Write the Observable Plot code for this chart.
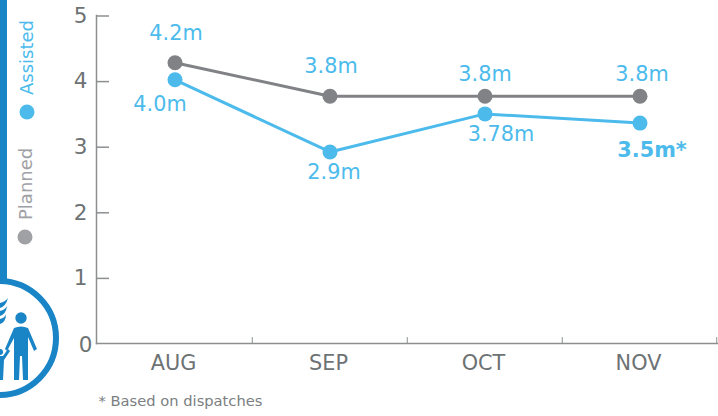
<!DOCTYPE html>
<html><head><meta charset="utf-8">
<script src="https://cdn.jsdelivr.net/npm/d3@7"></script>
<script src="https://cdn.jsdelivr.net/npm/@observablehq/plot@0.6"></script>
<style>
html,body{margin:0;padding:0;background:#fff;overflow:hidden}
#wrap{position:relative;width:718px;height:416px}
#wrap>svg{position:absolute;left:0;top:0}
#deco{pointer-events:none}
</style></head><body>
<div id="wrap"></div>
<script>
const months=["AUG","SEP","OCT","NOV"];
const planned=[4.28,3.77,3.77,3.77];
const assisted=[4.02,2.92,3.5,3.36];
const plannedLabels=["4.2m","3.8m","3.8m","3.8m"];
const assistedLabels=["4.0m","2.9m","3.78m","3.5m*"];
const plannedOffsets=[[1,-29],[1,-30],[0,-22],[2,-22]];
const assistedOffsets=[[-15,25],[4,20],[16,20],[12,27]];
const yTicks=[1,2,3,4,5];
const footnote="* Based on dispatches";
const blue="#4cbbec", grey="#808285", axisCol="#8c8e90", textCol="#6d7274", deep="#1a85c6";
const font="'DejaVu Sans',Verdana,sans-serif";
const fs=20.8;

const labelMarks=(vals,labels,offs)=>labels.map((t,i)=>Plot.text([t],{
  x:()=>months[i],y:()=>vals[i],text:d=>d,dx:offs[i][0],dy:offs[i][1],
  fill:blue,fontSize:fs}));

const chart=Plot.plot({
  width:718,height:416,marginLeft:96,marginRight:0,marginTop:15,marginBottom:73,
  style:{fontFamily:font,background:"transparent",overflow:"visible"},
  x:{type:"band",domain:months,padding:0,axis:null},
  y:{domain:[0,5],axis:null},
  marks:[
    Plot.frame({anchor:"left",stroke:axisCol,strokeWidth:1.5}),
    Plot.frame({anchor:"bottom",stroke:axisCol,strokeWidth:1.5}),
    Plot.ruleX(months,{x:d=>d,dx:-77.75,y1:0,y2:0.09,stroke:axisCol,filter:(d,i)=>i>0}),
    Plot.ruleX(months,{x:d=>d,dx:76.75,y1:0,y2:0.09,stroke:axisCol,filter:(d,i)=>i==3}),
    Plot.axisY({ticks:yTicks,tickFormat:"d",tickSize:-13,tickPadding:22,dy:0.5,stroke:axisCol,fontSize:21.5,fill:textCol,strokeWidth:1.5,label:null}),
    Plot.axisY({ticks:[0],tickFormat:"d",tickSize:0,tickPadding:4,dy:2,fontSize:21.5,fill:textCol,label:null}),
    Plot.axisX({tickSize:0,tickPadding:12,dx:-1.5,fontSize:fs,fill:textCol,label:null}),
    Plot.line(months,{x:d=>d,y:(d,i)=>planned[i],stroke:grey,strokeWidth:3}),
    Plot.line(months,{x:d=>d,y:(d,i)=>assisted[i],stroke:blue,strokeWidth:3}),
    Plot.dot(months,{x:d=>d,y:(d,i)=>planned[i],r:7.5,fill:grey}),
    Plot.dot(months,{x:d=>d,y:(d,i)=>assisted[i],r:7.5,fill:blue}),
    ...labelMarks(planned,plannedLabels,plannedOffsets),
    ...labelMarks(assisted,assistedLabels.slice(0,3),assistedOffsets),
    Plot.text([assistedLabels[3]],{x:()=>months[3],y:()=>assisted[3],text:d=>d,dx:assistedOffsets[3][0],dy:assistedOffsets[3][1],fill:blue,fontSize:fs,fontWeight:"bold"}),
    Plot.text([footnote],{frameAnchor:"bottom-left",dy:62,dx:2,text:d=>d,fill:textCol,fontSize:14.7,opacity:.9})
  ]
});
const wrap=document.getElementById("wrap");
wrap.appendChild(chart);

const deco=d3.select(wrap).append("svg").attr("id","deco").attr("width",718).attr("height",416)
  .style("font-family",font);
deco.append("rect").attr("x",0).attr("y",0).attr("width",7).attr("height",282).attr("fill",deep);
deco.append("circle").attr("cx",-1).attr("cy",338).attr("r",57).attr("fill","#fff").attr("stroke",deep).attr("stroke-width",6);
const g=deco.append("g").attr("fill",deep);
g.append("circle").attr("cx",21).attr("cy",318).attr("r",5.7);
g.append("path").attr("d","M14 328 Q21 325 28 328 L37 349 L34 351 L28 337 L28 380 L23 380 L22 356 L20 356 L19 380 L14 380 L14 338 L7 351 L5 349 Z");
g.append("path").attr("d","M0 356 L3 356 L8 349 L10 351 L4 360 L3 380 L0 380 Z");
g.append("circle").attr("cx",0).attr("cy",352).attr("r",3);
[298,306,314].forEach((y,i)=>g.append("path").attr("d",`M${8-i} ${y} Q6 ${y+8} 0 ${y+10} L0 ${y+5} Q5 ${y+4} ${8-i} ${y} Z`));
const legend=[["Assisted",blue,33,27,112,95],["Planned","#a0a1a4",32,25,237,220]];
legend.forEach(([t,c,bx,x,cy,ty])=>{
  deco.append("circle").attr("cx",x).attr("cy",cy).attr("r",7.5).attr("fill",c);
  deco.append("text").attr("transform",`translate(${bx},${ty}) rotate(-90)`).attr("font-size",18).attr("fill",c).text(t);
});
</script>
</body></html>
